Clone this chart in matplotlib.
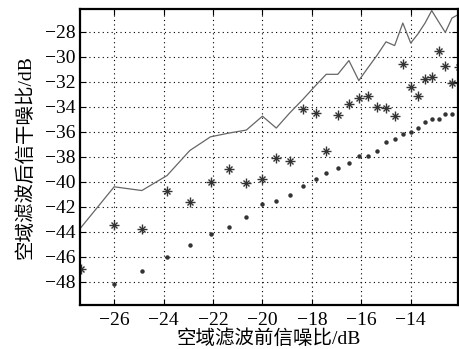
import numpy as np
import matplotlib
matplotlib.use("Agg")
import matplotlib.pyplot as plt

plt.rcParams["font.family"] = ["Liberation Serif", "Noto Sans CJK SC"]

# input SNR before spatial filtering (dB)
snr_in = [-27.36, -26.0, -24.88, -23.86, -22.94, -22.1, -21.35, -20.65, -20.0, -19.44,
          -18.9, -18.36, -17.85, -17.42, -16.95, -16.5, -16.1, -15.74, -15.37, -15.0,
          -14.65, -14.32, -14.0, -13.72, -13.42, -13.15, -12.87, -12.6, -12.33, -12.06]

line_vals = [-43.7, -40.4, -40.7, -39.5, -37.5, -36.4, -36.1, -35.86, -34.75, -35.7,
             -34.5, -33.4, -32.3, -31.4, -31.4, -30.3, -31.9, -30.9, -29.9, -28.8,
             -29.1, -27.3, -28.9, -28.2, -27.3, -26.3, -27.2, -28.05, -26.9, -26.6]

star_vals = [-47.0, -43.46, -43.8, -40.7, -41.6, -40.0, -38.95, -40.1, -39.8, -38.1,
             -38.35, -34.2, -34.5, -37.5, -34.66, -33.8, -33.3, -33.1, -34.05, -34.1,
             -34.7, -30.6, -32.4, -33.1, -31.8, -31.6, -29.5, -30.7, -32.1, -30.8]

dot_vals = [np.nan, -48.2, -47.1, -46.0, -45.06, -44.2, -43.6, -42.8, -41.8, -41.5,
            -41.06, -40.3, -39.8, -39.3, -38.9, -38.5, -37.9, -37.9, -37.5, -36.85,
            -36.6, -36.2, -36.0, -35.7, -35.25, -35.0, -35.0, -34.6, -34.6, np.nan]

xticks = [-26, -24, -22, -20, -18, -16, -14]
yticks = [-28, -30, -32, -34, -36, -38, -40, -42, -44, -46, -48]

fig = plt.figure(figsize=(4.6, 3.49), dpi=100)
ax = fig.add_axes([0.174, 0.126, 0.822, 0.848])

ax.plot(snr_in, line_vals, color="#666666", lw=0.9)
ax.plot(snr_in, star_vals, ls="none", marker="+", ms=7.5, mew=1.0, color="#333333")
ax.plot(snr_in, star_vals, ls="none", marker="x", ms=4.5, mew=1.0, color="#333333")
ax.plot(snr_in, dot_vals, ls="none", marker="o", ms=3.2, color="#333333", mec="none")

ax.set_xlim(-27.38, -12.08)
ax.set_ylim(-49.86, -26.18)
ax.set_xticks(xticks)
ax.set_yticks(yticks)
ax.set_xticklabels([f"\u2212{abs(t)}" for t in xticks])
ax.set_yticklabels([f"\u2212{abs(t)}" for t in yticks])

ax.grid(True, color="black", ls=(0, (1, 3)), lw=0.8)
ax.tick_params(direction="in", length=4, width=0.8, top=True, right=True, labelsize=14)
ax.tick_params(axis="x", pad=5)
ax.tick_params(axis="y", pad=3)
for s in ax.spines.values():
    s.set_linewidth(1.6)

ax.set_xlabel("空域滤波前信噪比/dB", fontsize=14, labelpad=0)
ax.set_ylabel("空域滤波后信干噪比/dB", fontsize=14, labelpad=8)

fig.savefig("out.png", dpi=100)
